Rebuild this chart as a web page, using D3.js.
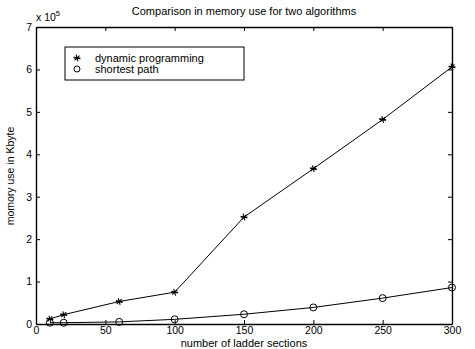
<!DOCTYPE html>
<html>
<head>
<meta charset="utf-8">
<script src="https://cdn.jsdelivr.net/npm/d3@7"></script>
<style>
  body { margin: 0; background: #fff; }
  text { font-family: "Liberation Sans", Arial, sans-serif; fill: #000; }
</style>
</head>
<body>
<svg id="chart" width="475" height="349"></svg>
<script>
// ladder sections (x) and memory use in Kbyte
const sections = [10, 20, 60, 100, 150, 200, 250, 300]
const dynamicProgramming = [12000, 22000, 53000, 75000, 252000, 366000, 482000, 606000]
const shortestPath = [3000, 3000, 5000, 11000, 23000, 39000, 61000, 86000]
const xTicks = [0, 50, 100, 150, 200, 250, 300]
const yTicks = [0, 1, 2, 3, 4, 5, 6, 7].map(d => d * 1e5)

const margins = {left: 36, top: 27, right: 23, bottom: 25}
const width = 475, height = 349
const svg = d3.select("#chart")

const xScale = d3.scaleLinear().domain([0, 300]).range([margins.left, width - margins.right])
const yScale = d3.scaleLinear().domain([0, 7e5]).range([height - margins.bottom, margins.top])

const fmt = d => d / 1e5

// axes, ticks point inward like the original box
const gx = svg.append("g")
  .attr("transform", `translate(0, ${yScale(0)})`)
  .call(d3.axisBottom(xScale).tickValues(xTicks).tickSizeInner(-4).tickSizeOuter(0).tickPadding(3))
const gxTop = svg.append("g")
  .attr("transform", `translate(0, ${yScale(7e5)})`)
  .call(d3.axisTop(xScale).tickValues(xTicks).tickSizeInner(-4).tickSizeOuter(0).tickFormat(""))
const gy = svg.append("g")
  .attr("transform", `translate(${xScale(0)}, 0)`)
  .call(d3.axisLeft(yScale).tickValues(yTicks).tickSizeInner(-4).tickSizeOuter(0).tickPadding(4).tickFormat(fmt))
const gyRight = svg.append("g")
  .attr("transform", `translate(${xScale(300)}, 0)`)
  .call(d3.axisRight(yScale).tickValues(yTicks).tickSizeInner(-4).tickSizeOuter(0).tickFormat(""))

;[gx, gxTop, gy, gyRight].forEach(g => {
  g.select(".domain").attr("stroke", "#000").attr("stroke-width", 1.4)
  g.selectAll(".tick line").attr("stroke", "#000")
  g.selectAll(".tick text").attr("font-size", 10.5).attr("font-family", "Liberation Sans, Arial, sans-serif")
})

// lines
const line = d3.line().x(d => xScale(d[0])).y(d => yScale(d[1]))
const dpData = sections.map((s, i) => [s, dynamicProgramming[i]])
const spData = sections.map((s, i) => [s, shortestPath[i]])

svg.append("path").datum(dpData).attr("d", line)
  .attr("fill", "none").attr("stroke", "#000").attr("stroke-width", 1)
svg.append("path").datum(spData).attr("d", line)
  .attr("fill", "none").attr("stroke", "#000").attr("stroke-width", 1)

const star = d3.symbol().type(d3.symbolAsterisk).size(34)
const drawStar = (sel) => sel.append("path").attr("d", star)
  .attr("fill", "none").attr("stroke", "#000").attr("stroke-width", 1.1)

svg.append("g").selectAll("g")
  .data(dpData)
  .enter()
  .append("g")
  .attr("transform", d => `translate(${xScale(d[0])}, ${yScale(d[1])}) rotate(45)`)
  .call(g => drawStar(g))
svg.append("g").selectAll("g")
  .data(dpData)
  .enter()
  .append("g")
  .attr("transform", d => `translate(${xScale(d[0])}, ${yScale(d[1])})`)
  .call(g => g.append("path").attr("d", "M-3.3,0H3.3").attr("stroke", "#000").attr("stroke-width", 1.1))

svg.append("g").selectAll("circle")
  .data(spData)
  .enter()
  .append("circle")
  .attr("cx", d => xScale(d[0]))
  .attr("cy", d => yScale(d[1]))
  .attr("r", 3.5)
  .attr("fill", "none")
  .attr("stroke", "#000")
  .attr("stroke-width", 1)

// legend
const legend = svg.append("g").attr("transform", "translate(65, 47)")
legend.append("rect").attr("width", 179).attr("height", 33)
  .attr("fill", "#fff").attr("stroke", "#000").attr("stroke-width", 1)
legend.append("g").attr("transform", "translate(12, 11) rotate(45)").call(g => drawStar(g))
legend.append("path").attr("d", "M8.7,11H15.3").attr("stroke", "#000").attr("stroke-width", 1.1)
legend.append("circle").attr("cx", 12).attr("cy", 22).attr("r", 3)
  .attr("fill", "none").attr("stroke", "#000")
legend.append("text").attr("x", 30).attr("y", 15).attr("font-size", 11).text("dynamic programming")
legend.append("text").attr("x", 30).attr("y", 26).attr("font-size", 11).text("shortest path")

// titles and labels
svg.append("text").attr("x", 244).attr("y", 15).attr("text-anchor", "middle")
  .attr("font-size", 11).text("Comparison in memory use for two algorithms")
svg.append("text").attr("x", 244).attr("y", 347).attr("text-anchor", "middle")
  .attr("font-size", 11).text("number of ladder sections")
svg.append("text").attr("transform", "translate(14, 176) rotate(-90)").attr("text-anchor", "middle")
  .attr("font-size", 10.5).text("momory use in Kbyte")
const exp = svg.append("text").attr("x", 36).attr("y", 21).attr("font-size", 10.5)
exp.append("tspan").text("x 10")
exp.append("tspan").attr("dy", -5).attr("font-size", 7.5).text("5")
</script>
</body>
</html>
